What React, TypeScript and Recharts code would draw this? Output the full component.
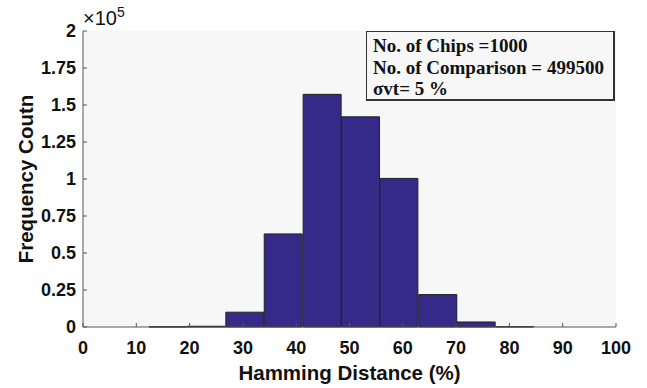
import {
  ComposedChart,
  Bar,
  XAxis,
  YAxis,
  CartesianGrid,
  Label,
} from "recharts";

// Histogram bins (Hamming distance %, bin centres) and counts per bin
const binCentres = [16.0, 23.2, 30.4, 37.6, 44.9, 52.1, 59.3, 66.6, 73.8, 81.0];
const binCounts = [100, 500, 10000, 62900, 157200, 142000, 100400, 21900, 3400, 200];

const xTicks = [0, 10, 20, 30, 40, 50, 60, 70, 80, 90, 100];
const yTicks = [0, 25000, 50000, 75000, 100000, 125000, 150000, 175000, 200000];

const infoLines = [
  "No. of Chips =1000",
  "No. of Comparison = 499500",
  "\u03c3vt= 5 %",
];

const data = binCentres.map((hd, i) => ({ hd, count: binCounts[i] }));

const SANS = "'Liberation Sans', Arial, sans-serif";
const SERIF = "'Liberation Serif', 'Times New Roman', serif";
const AXIS = "#555555";
const TICK_LEN = 4;

const BottomTick = ({ x, y, payload }: any) => (
  <g>
    <line x1={x} y1={y} x2={x} y2={y - TICK_LEN} stroke={AXIS} />
    <text
      x={x}
      y={y + 14}
      dy="0.71em"
      textAnchor="middle"
      fontFamily={SANS}
      fontWeight="bold"
      fontSize={18}
      fill="#111"
    >
      {payload.value}
    </text>
  </g>
);

const LeftTick = ({ x, y, payload }: any) => (
  <g>
    <line x1={x} y1={y} x2={x + TICK_LEN} y2={y} stroke={AXIS} />
    <text
      x={x - 7}
      y={y}
      dy="0.36em"
      textAnchor="end"
      fontFamily={SANS}
      fontWeight="bold"
      fontSize={18}
      fill="#111"
    >
      {payload.value / 100000}
    </text>
  </g>
);

const TopTick = ({ x, y }: any) => (
  <line x1={x} y1={y} x2={x} y2={y + TICK_LEN} stroke={AXIS} />
);

const RightTick = ({ x, y }: any) => (
  <line x1={x} y1={y} x2={x - TICK_LEN} y2={y} stroke={AXIS} />
);

export default function App() {
  return (
    <div
      style={{
        position: "absolute",
        left: 0,
        top: 0,
        width: 647,
        height: 388,
        background: "#fff",
      }}
    >
      <ComposedChart
        width={647}
        height={388}
        data={data}
        margin={{ top: 31, right: 31, left: 23, bottom: 31 }}
        barCategoryGap={0}
        barGap={0}
      >
        <CartesianGrid fill="#f7f7f7" horizontal={false} vertical={false} />
        <XAxis
          xAxisId="bottom"
          dataKey="hd"
          type="number"
          domain={[0, 100]}
          ticks={xTicks}
          interval={0}
          height={30}
          tickSize={0}
          tickMargin={0}
          stroke={AXIS}
          tick={<BottomTick />}
        >
          <Label
            value="Hamming Distance (%)"
            position="bottom"
            offset={8}
            style={{
              fontFamily: SANS,
              fontWeight: "bold",
              fontSize: 20.5,
              fill: "#111",
            }}
          />
        </XAxis>
        <XAxis
          xAxisId="top"
          orientation="top"
          dataKey="hd"
          type="number"
          domain={[0, 100]}
          ticks={xTicks.slice(1, -1)}
          interval={0}
          height={0}
          tickSize={0}
          tickMargin={0}
          stroke={AXIS}
          tick={<TopTick />}
        />
        <YAxis
          yAxisId="left"
          type="number"
          domain={[0, 200000]}
          ticks={yTicks}
          interval={0}
          width={60}
          tickSize={0}
          tickMargin={0}
          stroke={AXIS}
          tick={<LeftTick />}
          label={{
            content: ({ viewBox }: any) => {
              const cy = viewBox.y + viewBox.height / 2;
              return (
                <text
                  x={25}
                  y={cy}
                  transform={`rotate(-90, 25, ${cy})`}
                  textAnchor="middle"
                  dominantBaseline="central"
                  fontFamily={SANS}
                  fontWeight="bold"
                  fontSize={20.5}
                  fill="#111"
                >
                  Frequency Coutn
                </text>
              );
            },
          }}
        />
        <YAxis
          yAxisId="right"
          orientation="right"
          type="number"
          domain={[0, 200000]}
          ticks={yTicks.slice(1, -1)}
          interval={0}
          width={0}
          tickSize={0}
          tickMargin={0}
          stroke={AXIS}
          tick={<RightTick />}
        />
        <Bar
          xAxisId="bottom"
          yAxisId="left"
          dataKey="count"
          fill="#352a87"
          stroke="#222"
          strokeWidth={1}
          isAnimationActive={false}
        />
      </ComposedChart>

      {/* axis multiplier */}
      <div
        style={{
          position: "absolute",
          left: 83,
          top: 1,
          fontFamily: SANS,
          fontSize: 20,
          color: "#111",
          lineHeight: "22px",
          whiteSpace: "nowrap",
        }}
      >
        {"\u00d710"}
        <sup style={{ fontSize: 14, verticalAlign: 8 }}>5</sup>
      </div>

      {/* annotation box */}
      <div
        style={{
          position: "absolute",
          left: 366,
          top: 31,
          width: 249,
          height: 70,
          border: "1px solid #333",
          borderRightWidth: 2,
          borderBottomWidth: 2,
          background: "#f7f7f7",
          fontFamily: SERIF,
          fontWeight: "bold",
          fontSize: 19,
          lineHeight: "21.5px",
          color: "#111",
          padding: "3px 0 0 6px",
          boxSizing: "border-box",
        }}
      >
        {infoLines.map((t) => (
          <div key={t} style={{ whiteSpace: "nowrap" }}>
            {t}
          </div>
        ))}
      </div>
    </div>
  );
}
